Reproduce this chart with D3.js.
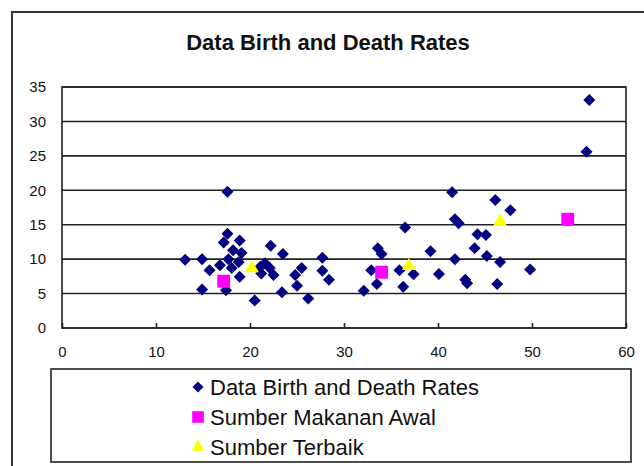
<!DOCTYPE html>
<html>
<head>
<meta charset="utf-8">
<script src="https://cdnjs.cloudflare.com/ajax/libs/d3/7.8.5/d3.min.js"></script>
<style>
  body { margin: 0; background: #fff; }
  svg { display: block; font-family: Arial, "Liberation Sans", sans-serif; }
</style>
</head>
<body>
<div id="chart"></div>
<script>
// data
var birthDeath = [
  [13.1, 9.9], [14.9, 10.0], [14.9, 5.6], [15.7, 8.4], [16.8, 9.1],
  [17.2, 12.4], [17.45, 5.5], [17.6, 13.7], [17.6, 19.8], [17.7, 10.0],
  [18.05, 8.7], [18.2, 11.3], [18.8, 9.6], [18.9, 12.7], [18.9, 7.45],
  [19.1, 10.9], [20.5, 4.0],
  [21.1, 8.9], [21.2, 7.9], [21.6, 9.4], [22.1, 8.7], [22.5, 7.7],
  [22.2, 11.95], [23.5, 10.75], [23.4, 5.2], [24.8, 7.7], [25.5, 8.7],
  [25.0, 6.15], [26.2, 4.3], [27.7, 10.2], [27.7, 8.3], [28.4, 7.0],
  [32.1, 5.4], [32.9, 8.4], [33.5, 6.4], [33.6, 11.6], [34.0, 10.75],
  [35.9, 8.4], [36.3, 6.0], [36.5, 14.6], [37.4, 7.8], [39.2, 11.15],
  [40.1, 7.85], [41.5, 19.7], [41.8, 15.8], [42.2, 15.2], [41.8, 10.0],
  [42.9, 7.0], [43.1, 6.5], [43.9, 11.6], [44.2, 13.6], [45.1, 13.5],
  [45.2, 10.45], [46.1, 18.6], [46.3, 6.4], [46.6, 9.6], [47.7, 17.1],
  [49.8, 8.5], [55.8, 25.6], [56.1, 33.1]
];
var makananAwal = [[17.2, 6.8], [34.0, 8.1], [53.8, 15.8]];
var terbaik = [[20.2, 8.7], [36.9, 9.0], [46.6, 15.4]];

var xTicks = [0, 10, 20, 30, 40, 50, 60];
var yTicks = [0, 5, 10, 15, 20, 25, 30, 35];
var legendNames = ["Data Birth and Death Rates", "Sumber Makanan Awal", "Sumber Terbaik"];

var W = 644, H = 466;
var plot = {left: 62, right: 626, top: 87, bottom: 328};

var svg = d3.select("#chart").append("svg")
  .attr("width", W)
  .attr("height", H);

// outer chart frame (runs off the right and bottom)
svg.append("rect")
  .attr("x", 12).attr("y", 12)
  .attr("width", 700).attr("height", 500)
  .attr("fill", "#fff")
  .attr("stroke", "#333")
  .attr("stroke-width", 2);

svg.append("text")
  .attr("x", 328).attr("y", 50)
  .attr("text-anchor", "middle")
  .style("font-size", "22px")
  .style("font-weight", "bold")
  .attr("fill", "#111")
  .text("Data Birth and Death Rates");

var x = d3.scaleLinear().domain([0, 60]).range([plot.left, plot.right]);
var y = d3.scaleLinear().domain([0, 35]).range([plot.bottom, plot.top]);

// horizontal gridlines
svg.append("g")
  .selectAll("line")
  .data(yTicks)
  .enter()
  .append("line")
    .attr("x1", plot.left).attr("x2", plot.right)
    .attr("y1", function(d) { return y(d); })
    .attr("y2", function(d) { return y(d); })
    .attr("stroke", "#222")
    .attr("stroke-width", 1.6);

// plot border
svg.append("rect")
  .attr("x", plot.left).attr("y", plot.top)
  .attr("width", plot.right - plot.left)
  .attr("height", plot.bottom - plot.top)
  .attr("fill", "none")
  .attr("stroke", "#222")
  .attr("stroke-width", 1.6);

// x axis: ticks point inward
var xAxis = svg.append("g")
  .attr("transform", "translate(0," + plot.bottom + ")")
  .call(d3.axisBottom(x).tickValues(xTicks).tickSizeInner(-5).tickSizeOuter(0).tickPadding(18));
xAxis.select(".domain").remove();
xAxis.selectAll("line").attr("stroke", "#222").attr("stroke-width", 1.6);
xAxis.selectAll("text")
  .style("font-size", "15px")
  .style("font-family", "Arial, 'Liberation Sans', sans-serif")
  .attr("fill", "#111");

var yAxis = svg.append("g")
  .attr("transform", "translate(" + (plot.left - 16) + ",0)")
  .call(d3.axisLeft(y).tickValues(yTicks).tickSize(0).tickPadding(0));
yAxis.select(".domain").remove();
yAxis.selectAll("text")
  .style("font-size", "15px")
  .style("font-family", "Arial, 'Liberation Sans', sans-serif")
  .attr("fill", "#111");

var diamond = d3.symbol().type(d3.symbolSquare).size(72);
var square = d3.symbol().type(d3.symbolSquare).size(165);
var triangle = d3.symbol().type(d3.symbolTriangle).size(85);

svg.append("g").selectAll("path")
  .data(birthDeath)
  .enter()
  .append("path")
    .attr("d", diamond)
    .attr("transform", function(d) { return "translate(" + x(d[0]) + "," + y(d[1]) + ") rotate(45)"; })
    .attr("fill", "#000080");

svg.append("g").selectAll("path")
  .data(makananAwal)
  .enter()
  .append("path")
    .attr("d", square)
    .attr("transform", function(d) { return "translate(" + x(d[0]) + "," + y(d[1]) + ")"; })
    .attr("fill", "#ff00ff");

svg.append("g").selectAll("path")
  .data(terbaik)
  .enter()
  .append("path")
    .attr("d", triangle)
    .attr("transform", function(d) { return "translate(" + x(d[0]) + "," + y(d[1]) + ")"; })
    .attr("fill", "#ffff00");

// legend
svg.append("rect")
  .attr("x", 51).attr("y", 369)
  .attr("width", 580).attr("height", 93)
  .attr("fill", "#fff")
  .attr("stroke", "#222")
  .attr("stroke-width", 1.6);

var legendSymbols = [
  {sym: d3.symbol().type(d3.symbolSquare).size(62), rot: 45, fill: "#000080"},
  {sym: d3.symbol().type(d3.symbolSquare).size(135), rot: 0, fill: "#ff00ff"},
  {sym: d3.symbol().type(d3.symbolTriangle).size(70), rot: 0, fill: "#ffff00"}
];

var rows = svg.append("g").selectAll("g")
  .data(legendNames)
  .enter()
  .append("g")
    .attr("transform", function(d, i) { return "translate(0," + (387 + i * 30) + ")"; });

rows.append("path")
  .attr("d", function(d, i) { return legendSymbols[i].sym(); })
  .attr("transform", function(d, i) { return "translate(198,0) rotate(" + legendSymbols[i].rot + ")"; })
  .attr("fill", function(d, i) { return legendSymbols[i].fill; });

rows.append("text")
  .attr("x", 210).attr("y", 8)
  .style("font-size", "22px")
  .attr("fill", "#111")
  .text(function(d) { return d; });
</script>
</body>
</html>
